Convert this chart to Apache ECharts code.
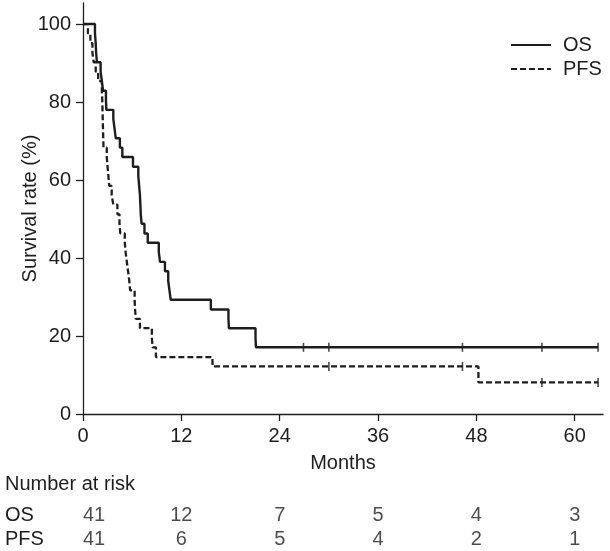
<!DOCTYPE html>
<html>
<head>
<meta charset="utf-8">
<script src="https://cdn.jsdelivr.net/npm/echarts@6/dist/echarts.min.js"></script>
<style>
html,body{margin:0;padding:0;background:#fff;}
#chart{width:610px;height:551px;}
</style>
</head>
<body>
<div id="chart"></div>
<script>
// ---- Data ----
const xTicks = [0, 12, 24, 36, 48, 60];
const yTicks = [0, 20, 40, 60, 80, 100];

const osTimes = [0, 1.46, 1.55, 1.6, 1.7, 2.15, 2.3, 2.45, 2.8, 2.85, 3.7, 3.85, 4.0, 4.5, 4.8, 6.1, 6.75, 6.85, 6.95, 7.0, 7.05, 7.15, 7.5, 7.9, 9.25, 9.4, 10.0, 10.4, 10.55, 10.7, 15.6, 17.75, 17.8, 21.05, 21.1, 62.85];
const osSurv  = [100, 97.6, 95.1, 92.7, 90.2, 87.8, 85.4, 82.9, 80.5, 78.0, 75.6, 73.2, 70.7, 68.3, 65.9, 63.4, 61.0, 58.5, 56.1, 53.7, 51.2, 48.8, 46.3, 43.9, 41.5, 39.0, 36.6, 34.1, 31.7, 29.3, 26.8, 24.4, 22.0, 19.5, 17.1, 17.1];

const pfsTimes = [0, 0.6, 0.9, 1.15, 1.3, 1.55, 1.85, 2.3, 2.35, 2.38, 2.41, 2.44, 2.47, 2.5, 2.9, 3.0, 3.1, 3.2, 3.5, 3.7, 4.2, 4.45, 4.55, 5.1, 5.2, 5.35, 5.5, 5.65, 5.75, 6.3, 6.35, 6.45, 6.95, 8.4, 8.5, 8.9, 15.8, 48.25, 62.85];
const pfsSurv  = [100, 97.6, 95.1, 92.7, 90.2, 87.8, 85.4, 82.9, 80.5, 78.0, 75.6, 73.2, 70.7, 68.3, 65.9, 63.4, 61.0, 58.5, 56.1, 53.7, 51.2, 48.8, 46.3, 43.9, 41.5, 39.0, 36.6, 34.1, 31.7, 29.3, 26.8, 24.4, 22.0, 19.5, 17.1, 14.6, 12.2, 8.1, 8.1];

const osCensorTimes = [26.9, 30.0, 46.3, 56.0, 62.85];
const osCensorSurv  = [17.1, 17.1, 17.1, 17.1, 17.1];
const pfsCensorTimes = [30.0, 46.3, 56.0, 62.85];
const pfsCensorSurv  = [12.2, 12.2, 8.1, 8.1];

const riskTimes = [0, 12, 24, 36, 48, 60];
const osRisk  = [41, 12, 7, 5, 4, 3];
const pfsRisk = [41, 6, 5, 4, 2, 1];
const riskRows = ['OS', 'PFS'];

// ---- Chart ----
const FONT = "'Liberation Sans', Arial, Helvetica, sans-serif";
const INK = '#1e1e1e';
const XMAX = 63.45;

function pairs(xs, ys) { return xs.map((x, i) => [x, ys[i]]); }

function riskData(row, arr) {
  return riskTimes.map((t, i) => {
    const d = { value: [t, row, arr[i]] };
    if (i === 0) d.label = { offset: [11, 0] };
    return d;
  });
}

const chart = echarts.init(document.getElementById('chart'), null, { renderer: 'canvas' });
chart.setOption({
  animation: false,
  backgroundColor: '#fff',
  textStyle: { fontFamily: FONT, color: INK },
  title: {
    text: 'Number at risk',
    left: 5, top: 474, padding: 0,
    textStyle: { fontFamily: FONT, fontSize: 20, fontWeight: 'normal', color: INK }
  },
  legend: {
    data: ['OS', 'PFS'],
    orient: 'vertical',
    left: 510, top: 35,
    itemWidth: 40, itemHeight: 2, itemGap: 4,
    padding: 0,
    itemStyle: { opacity: 0 },
    textStyle: { fontFamily: FONT, fontSize: 20, color: INK, padding: [0, 0, 0, 7] }
  },
  grid: [
    { left: 83, right: 7, top: 3, bottom: 137, containLabel: false },
    { left: 83, right: 7, top: 503, height: 52, containLabel: false }
  ],
  xAxis: [
    {
      type: 'value', gridIndex: 0, min: 0, max: XMAX,
      name: 'Months', nameLocation: 'middle', nameGap: 39, nameMoveOverlap: false,
      nameTextStyle: { fontFamily: FONT, fontSize: 20, color: INK },
      axisLine: { lineStyle: { color: INK, width: 1.3 } },
      axisTick: { show: true, length: 7, lineStyle: { color: INK, width: 1.3 }, customValues: xTicks },
      axisLabel: { fontFamily: FONT, fontSize: 20, color: INK, margin: 12, customValues: xTicks },
      splitLine: { show: false }
    },
    {
      type: 'value', gridIndex: 1, min: 0, max: XMAX, show: false
    }
  ],
  yAxis: [
    {
      type: 'value', gridIndex: 0, min: 0, max: 105.4,
      name: 'Survival rate (%)', nameLocation: 'middle', nameGap: 43, nameRotate: 90, nameMoveOverlap: false,
      nameTextStyle: { fontFamily: FONT, fontSize: 20, color: INK },
      axisLine: { show: true, lineStyle: { color: INK, width: 1.3 } },
      axisTick: { show: true, length: 7, lineStyle: { color: INK, width: 1.3 }, customValues: yTicks },
      axisLabel: { fontFamily: FONT, fontSize: 20, color: INK, margin: 12, customValues: yTicks },
      splitLine: { show: false }
    },
    {
      type: 'category', gridIndex: 1, data: riskRows, inverse: true,
      axisLine: { show: false }, axisTick: { show: false }, splitLine: { show: false },
      axisLabel: { interval: 0, align: 'left', margin: 78, fontFamily: FONT, fontSize: 20, color: INK }
    }
  ],
  series: [
    {
      name: 'OS', type: 'line', step: 'end', xAxisIndex: 0, yAxisIndex: 0,
      data: pairs(osTimes, osSurv), symbol: 'none',
      lineStyle: { color: INK, width: 2.4, type: 'solid' },
      itemStyle: { color: INK }
    },
    {
      name: 'PFS', type: 'line', step: 'end', xAxisIndex: 0, yAxisIndex: 0,
      data: pairs(pfsTimes, pfsSurv), symbol: 'none',
      lineStyle: { color: INK, width: 2.3, type: [6, 3] },
      itemStyle: { color: INK }
    },
    {
      name: 'OS censored', type: 'scatter', xAxisIndex: 0, yAxisIndex: 0,
      data: pairs(osCensorTimes, osCensorSurv),
      symbol: 'rect', symbolSize: [1.6, 9], itemStyle: { color: INK }
    },
    {
      name: 'PFS censored', type: 'scatter', xAxisIndex: 0, yAxisIndex: 0,
      data: pairs(pfsCensorTimes, pfsCensorSurv),
      symbol: 'rect', symbolSize: [1.6, 9], itemStyle: { color: INK }
    },
    {
      name: 'risk OS', type: 'scatter', xAxisIndex: 1, yAxisIndex: 1,
      data: riskData('OS', osRisk), symbolSize: 0,
      label: { show: true, position: 'inside', fontFamily: FONT, fontSize: 20, color: INK,
               formatter: p => String(p.value[2]) }
    },
    {
      name: 'risk PFS', type: 'scatter', xAxisIndex: 1, yAxisIndex: 1,
      data: riskData('PFS', pfsRisk), symbolSize: 0,
      label: { show: true, position: 'inside', fontFamily: FONT, fontSize: 20, color: INK,
               formatter: p => String(p.value[2]) }
    }
  ]
});
</script>
</body>
</html>
